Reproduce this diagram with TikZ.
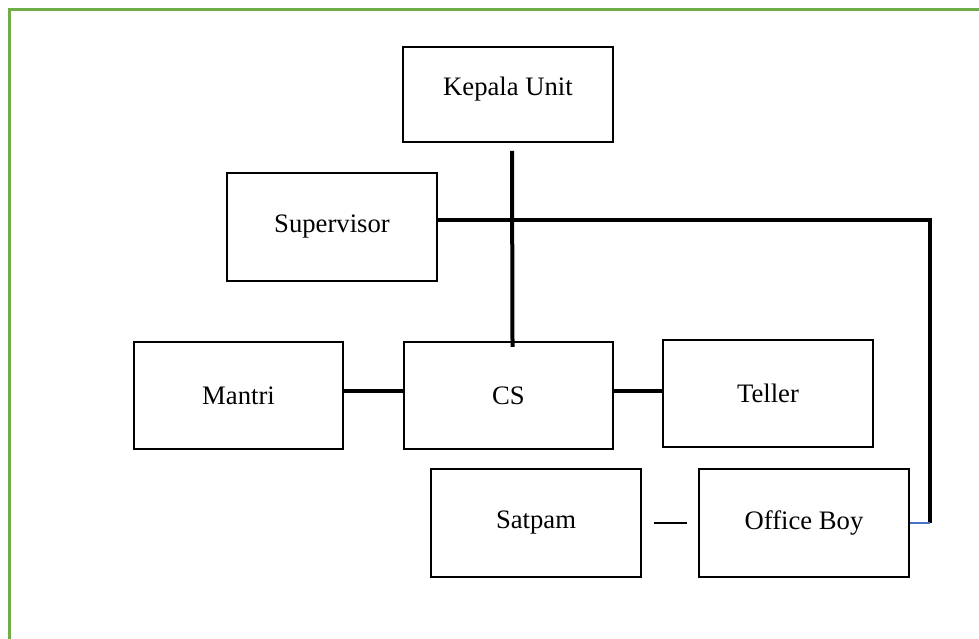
\documentclass[tikz,border=0pt]{standalone}
\usepackage{fontspec}
\setmainfont{Liberation Serif}
\usepackage{xcolor}
\usetikzlibrary{positioning}
\definecolor{frame}{HTML}{70AD47}
\definecolor{link}{HTML}{4472C4}
\definecolor{thin}{HTML}{404040}

\begin{document}
\begin{tikzpicture}[x=0.75pt, y=-0.75pt,
    font=\fontsize{20}{24}\selectfont,
    unitbox/.style={draw=black, line width=1.6pt, fill=white,
      minimum width=157pt, minimum height=80.5pt, inner sep=0pt},
    tie/.style={line width=3pt}]
  \useasboundingbox (0,0) rectangle (979,639);
  \draw[frame, line width=2.4pt] (9.5,700) -- (9.5,9.5) -- (990,9.5);

  \foreach \name/\x/\y/\txt in {
    supervisor/332/227/Supervisor,
    mantri/238.5/395.5/Mantri,
    cs/508.5/395.5/CS,
    teller/768/393.5/Teller,
    satpam/536/523/Satpam,
    officeboy/804/523/Office Boy}
  {
    \node[unitbox] (\name) at (\x,\y) {\txt};
  }
  \node[unitbox, minimum height=71pt, text depth=12pt] (kepala) at (508,94.5) {Kepala Unit};

  \coordinate (corner) at (930,220);
  \draw[tie, shorten >=-4.5pt]
    ([xshift=3pt, yshift=-6pt]kepala.south) -- ([xshift=3pt]cs.north);
  \draw[tie] (supervisor.east |- corner) -- (corner) -- (corner |- officeboy.east);
  \draw[tie] (mantri.east |- 0,391) -- (cs.west |- 0,391);
  \draw[tie] (cs.east |- 0,391) -- (teller.west |- 0,391);
  \draw[link, line width=0.9pt] (officeboy.east) -- (corner |- officeboy.east);
  \draw[thin, line width=0.9pt]
    ([xshift=9pt]satpam.east) -- ([xshift=-8.5pt]officeboy.west);
\end{tikzpicture}
\end{document}
